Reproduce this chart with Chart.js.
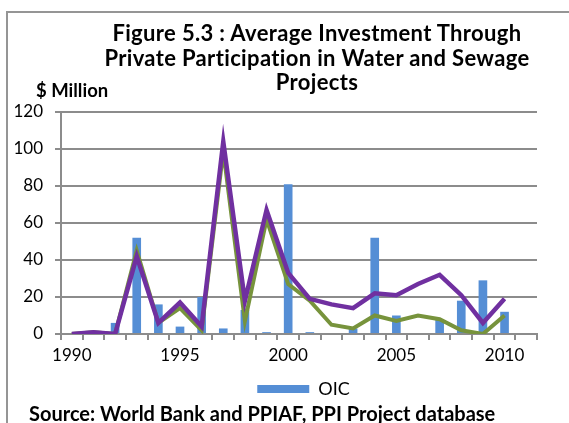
<!DOCTYPE html>
<html>
<head>
<meta charset="utf-8">
<script src="https://cdn.jsdelivr.net/npm/chart.js@4/dist/chart.umd.min.js"></script>
<style>
  body { margin: 0; background: #fff; font-family: Lato, "DejaVu Sans", sans-serif; }
  #wrap { position: relative; width: 569px; height: 423px; overflow: hidden; }
  #frame { position: absolute; left: 6px; top: 11px; width: 600px; height: 450px; border: 2px solid #959595; box-sizing: border-box; }
  #title { position: absolute; left: 67px; width: 500px; top: 21px; text-align: center; font-weight: bold; font-size: 22px; line-height: 24.5px; letter-spacing: 0.35px; color: #000; }
  #unit { position: absolute; left: 36px; top: 79px; font-weight: bold; font-size: 18.5px; line-height: 1.2; }
  #source { position: absolute; left: 29px; top: 401px; font-weight: bold; font-size: 20px; line-height: 1.2; white-space: nowrap; }
  #box { position: absolute; left: 0; top: 0; width: 569px; height: 423px; }
</style>
</head>
<body>
<div id="wrap">
  <div id="frame"></div>
  <div id="box"><canvas id="chart"></canvas></div>
  <div id="title">Figure 5.3 : Average Investment Through<br>Private Participation in Water and Sewage<br>Projects</div>
  <div id="unit">$ Million</div>
  <div id="source">Source: World Bank and PPIAF, PPI Project database</div>
</div>
<script>
const years = ['1990', '1991', '1992', '1993', '1994', '1995', '1996', '1997', '1998', '1999', '2000',
               '2001', '2002', '2003', '2004', '2005', '2006', '2007', '2008', '2009', '2010', '2011'];
const oic = [0, 0, 6, 52, 16, 4, 20, 3, 13, 1, 81, 1, 0, 3, 52, 10, 0, 8, 18, 29, 12, null];
const greenLine = [0, 1, 0, 45, 6, 14, 2, 99, 7, 62, 27, 18, 5, 3, 10, 7, 10, 8, 2, 0, 10, null];
const purpleLine = [0, 1, 0, 42, 6, 17, 4, 104, 18, 67, 33, 19, 16, 14, 22, 21, 27, 32, 21, 6, 19, null];
const yTicks = [0, 20, 40, 60, 80, 100, 120];

// legend sits a bit right of the plot centre in the original
const legendShift = {
    id: 'legendShift',
    afterLayout(chart) {
        chart.legend.left += 30;
        chart.legend.right += 30;
    }
};

document.addEventListener('DOMContentLoaded', () => {
    const ctx = document.getElementById('chart').getContext('2d');
    const axisFont = { family: 'Lato', size: 17 };
    new Chart(ctx, {
        type: 'bar',
        data: {
            labels: years,
            datasets: [
                {
                    label: 'OIC',
                    data: oic,
                    backgroundColor: '#558ED5',
                    categoryPercentage: 1,
                    barPercentage: 0.4,
                    order: 3
                },
                {
                    type: 'line',
                    label: 'Series 2',
                    data: greenLine,
                    borderColor: '#77933C',
                    borderWidth: 4,
                    pointRadius: 0,
                    tension: 0,
                    order: 2
                },
                {
                    type: 'line',
                    label: 'Series 3',
                    data: purpleLine,
                    borderColor: '#7030A0',
                    borderWidth: 4.5,
                    pointRadius: 0,
                    tension: 0,
                    order: 1
                }
            ]
        },
        options: {
            responsive: true,
            maintainAspectRatio: false,
            animation: false,
            layout: { padding: { left: 10, right: 32, top: 112, bottom: 15 } },
            scales: {
                x: {
                    grid: { drawOnChartArea: false, drawTicks: true, tickLength: 6, color: '#8c8c8c', lineWidth: 2 },
                    border: { color: '#8c8c8c', width: 2 },
                    ticks: {
                        autoSkip: false,
                        maxRotation: 0,
                        padding: 5,
                        color: '#000',
                        font: axisFont,
                        callback: function (v, i) { return i % 5 === 0 ? years[i] : ''; }
                    },
                    afterFit: (s) => { s.height = 38; }
                },
                y: {
                    min: 0,
                    max: 120,
                    afterBuildTicks: (s) => { s.ticks = yTicks.map(v => ({ value: v })); },
                    grid: { color: '#8c8c8c', lineWidth: 2, tickLength: 6 },
                    border: { color: '#8c8c8c', width: 2 },
                    ticks: { padding: 12, color: '#000', font: axisFont },
                    afterFit: (s) => { s.width = 51; }
                }
            },
            plugins: {
                legend: {
                    position: 'bottom',
                    labels: {
                        boxWidth: 52,
                        boxHeight: 8,
                        color: '#000',
                        font: { family: 'Lato', size: 18 },
                        padding: 8,
                        filter: (item) => item.datasetIndex === 0
                    }
                },
                tooltip: { enabled: false }
            }
        },
        plugins: [legendShift]
    });
});
</script>
</body>
</html>
